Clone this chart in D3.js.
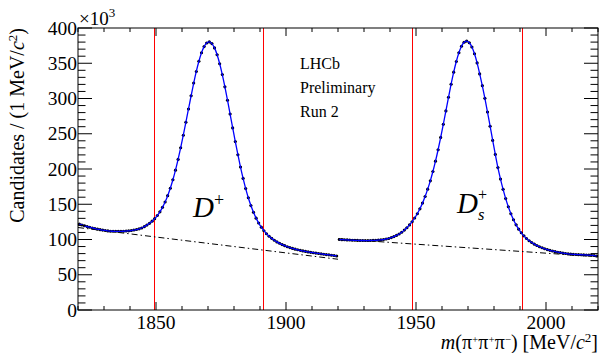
<!DOCTYPE html>
<html><head><meta charset="utf-8">
<script src="https://cdn.jsdelivr.net/npm/d3@7"></script>
<style>body{margin:0;background:#fff}svg{display:block}text{font-family:"Liberation Serif","Times New Roman",serif;fill:#000}</style>
</head><body><svg id="c" width="600" height="353"></svg>
<script>
// ---- data (counts in units of 10^3 per 1 MeV/c^2 bin) ----
const massDp = d3.range(1820.5, 1920, 1);
const massDs = d3.range(1920.5, 2020, 1);
const candDp = [121.9,120.6,119.5,118.4,117.4,116.4,115.6,114.7,114.0,113.3,
112.8,112.2,111.8,111.7,111.6,111.6,111.6,111.7,112.0,112.3,
112.7,113.4,114.1,115.1,116.3,118.2,120.4,122.9,126.0,129.6,
134.0,139.2,145.6,153.2,162.2,172.7,184.8,198.4,213.6,230.2,
247.9,266.4,285.2,303.9,321.9,338.4,352.9,364.8,373.6,378.8,
380.3,377.9,371.8,362.1,349.3,333.9,316.5,297.6,278.0,258.3,
238.9,220.3,202.8,186.7,172.2,159.2,148.1,138.5,130.3,123.3,
117.5,112.5,108.2,104.6,101.6,99.0,96.6,94.6,92.8,91.3,
89.7,88.5,87.4,86.3,85.4,84.6,83.8,83.1,82.4,81.8,
81.3,80.7,80.2,79.6,79.1,78.6,78.2,77.7,77.2,76.7];
const candDs = [100.0,99.8,99.6,99.4,99.2,99.0,98.9,98.7,98.6,98.6,
98.5,98.5,98.6,98.7,98.9,99.1,99.5,99.9,100.7,101.5,
102.7,104.1,105.8,107.8,110.3,113.3,116.7,120.7,125.2,130.5,
136.5,143.5,151.6,160.9,171.4,183.2,196.4,211.1,227.3,244.8,
263.3,282.4,301.7,320.3,337.4,352.5,364.9,374.1,379.7,381.4,
379.1,373.1,363.4,350.5,334.9,318.2,300.2,280.8,260.7,240.6,
220.7,202.0,185.7,171.1,158.0,146.5,136.6,128.1,120.8,114.7,
109.5,105.2,101.5,98.3,95.7,93.4,91.4,89.7,88.2,86.8,
85.7,84.6,83.7,82.8,82.0,81.4,80.7,80.2,79.6,79.2,
78.9,78.7,78.5,78.4,78.2,78.0,77.8,77.5,77.2,76.7];
const bkgDpMass = [1820, 1920];
const bkgDpVal  = [117, 72];
const bkgDsMass = [1920, 2020];
const bkgDsVal  = [101, 75.5];
const windowEdges = [1849.3, 1891.3, 1948.3, 1990.6];
const xMajorTicks = [1850, 1900, 1950, 2000];
const xMinorTicks = d3.range(1820, 2021, 10);
const yMajorTicks = [0, 50, 100, 150, 200, 250, 300, 350, 400];
const yMinorTicks = d3.range(0, 401, 10);

// ---- layout ----
const L = 78, R = 598, T = 28, B = 310;
const svg = d3.select("#c");
const x = d3.scaleLinear().domain([1820, 2020]).range([L, R]);
const y = d3.scaleLinear().domain([0, 400]).range([B, T]);
const crisp = v => Math.round(v) + 0.5;

// window lines
svg.append("g").selectAll("line").data(windowEdges).join("line")
  .attr("x1", d => crisp(x(d))).attr("x2", d => crisp(x(d))).attr("y1", T).attr("y2", B)
  .attr("stroke", "#ff0000").attr("stroke-width", 1).attr("shape-rendering", "crispEdges");

// background lines
function bkg(ms, vs) {
  svg.append("path").datum(ms.map((m, i) => [m, vs[i]]))
    .attr("d", d3.line().x(d => x(d[0])).y(d => y(d[1])))
    .attr("fill", "none").attr("stroke", "#000").attr("stroke-width", 1)
    .attr("stroke-dasharray", "6,3,1.5,3");
}
bkg(bkgDpMass, bkgDpVal);
bkg(bkgDsMass, bkgDsVal);

// data points + fit
function region(ms, vs) {
  const pts = ms.map((m, i) => [m, vs[i]]);
  svg.append("g").selectAll("circle").data(pts).join("circle")
    .attr("cx", d => x(d[0])).attr("cy", d => y(d[1])).attr("r", 1.55).attr("fill", "#000");
  svg.append("g").selectAll("line").data(pts).join("line")
    .attr("x1", d => x(d[0] - 0.5)).attr("x2", d => x(d[0] + 0.5))
    .attr("y1", d => y(d[1])).attr("y2", d => y(d[1])).attr("stroke", "#000").attr("stroke-width", 1);
  svg.append("path").datum(pts)
    .attr("d", d3.line().x(d => x(d[0])).y(d => y(d[1])).curve(d3.curveMonotoneX))
    .attr("fill", "none").attr("stroke", "#0000ff").attr("stroke-width", 1.3);
}
region(massDp, candDp);
region(massDs, candDs);

// frame and ticks
const g = svg.append("g").attr("stroke", "#000").attr("stroke-width", 1);
g.append("rect").attr("x", L).attr("y", T).attr("width", R - L).attr("height", B - T).attr("fill", "none");
function xt(vals, len) {
  vals.forEach(v => {
    g.append("line").attr("x1", x(v)).attr("x2", x(v)).attr("y1", B).attr("y2", B - len);
    g.append("line").attr("x1", x(v)).attr("x2", x(v)).attr("y1", T).attr("y2", T + len);
  });
}
function yt(vals, len) {
  vals.forEach(v => {
    g.append("line").attr("y1", y(v)).attr("y2", y(v)).attr("x1", L).attr("x2", L + len);
    g.append("line").attr("y1", y(v)).attr("y2", y(v)).attr("x1", R).attr("x2", R - len);
  });
}
xt(xMinorTicks.filter(v => !xMajorTicks.includes(v)), 4);
xt(xMajorTicks, 8);
yt(yMinorTicks.filter(v => !yMajorTicks.includes(v)), 7.5);
yt(yMajorTicks, 14);

// tick labels
svg.append("g").selectAll("text").data(xMajorTicks).join("text")
  .attr("x", d => x(d)).attr("y", 328.5).attr("text-anchor", "middle")
  .attr("font-size", 19.5).text(d => d);
svg.append("g").selectAll("text").data(yMajorTicks).join("text")
  .attr("x", 77).attr("y", d => y(d) + 6.5).attr("text-anchor", "end")
  .attr("font-size", 19.5).text(d => d);

// rich text helper
function rich(t, parts) {
  let shift = 0;
  parts.forEach(p => {
    const ts = t.append("tspan").text(p.t);
    const target = p.sup ? -p.sup : (p.sub ? p.sub : 0);
    ts.attr("dy", target - shift); shift = target;
    if (p.dx) ts.attr("dx", p.dx);
    if (p.size) ts.attr("font-size", p.size);
    if (p.it) ts.attr("font-style", "italic");
  });
}
// x10^3
rich(svg.append("text").attr("x", 79).attr("y", 25).attr("font-size", 19),
  [{t: "×10"}, {t: "3", sup: 8, size: 13}]);

// axis titles
rich(svg.append("text").attr("text-anchor", "end").attr("font-size", 20)
  .attr("transform", "translate(24,28) rotate(-90)"),
  [{t: "Candidates / (1 MeV/"}, {t: "c", it: true}, {t: "2", sup: 7, size: 13}, {t: ")"}]);
rich(svg.append("text").attr("x", 598).attr("y", 349).attr("text-anchor", "end").attr("font-size", 20),
  [{t: "m", it: true}, {t: "(π"}, {t: "+", sup: 6, size: 11}, {t: "π"}, {t: "+", sup: 6, size: 11},
   {t: "π"}, {t: "−", sup: 6, size: 11}, {t: ") [MeV/"}, {t: "c", it: true}, {t: "2", sup: 7, size: 13}, {t: "]"}]);

// annotations
["LHCb", "Preliminary", "Run 2"].forEach((s, i) =>
  svg.append("text").attr("x", 300).attr("y", 69 + i * 24).attr("font-size", 16).text(s));
rich(svg.append("text").attr("x", 193).attr("y", 217).attr("font-size", 29),
  [{t: "D", it: true}, {t: "+", sup: 11, size: 18}]);
rich(svg.append("text").attr("x", 457).attr("y", 213).attr("font-size", 29),
  [{t: "D", it: true}, {t: "+", sup: 13, size: 16}, {t: "s", sub: 7, size: 16.5, it: true, dx: -9}]);
</script></body></html>
